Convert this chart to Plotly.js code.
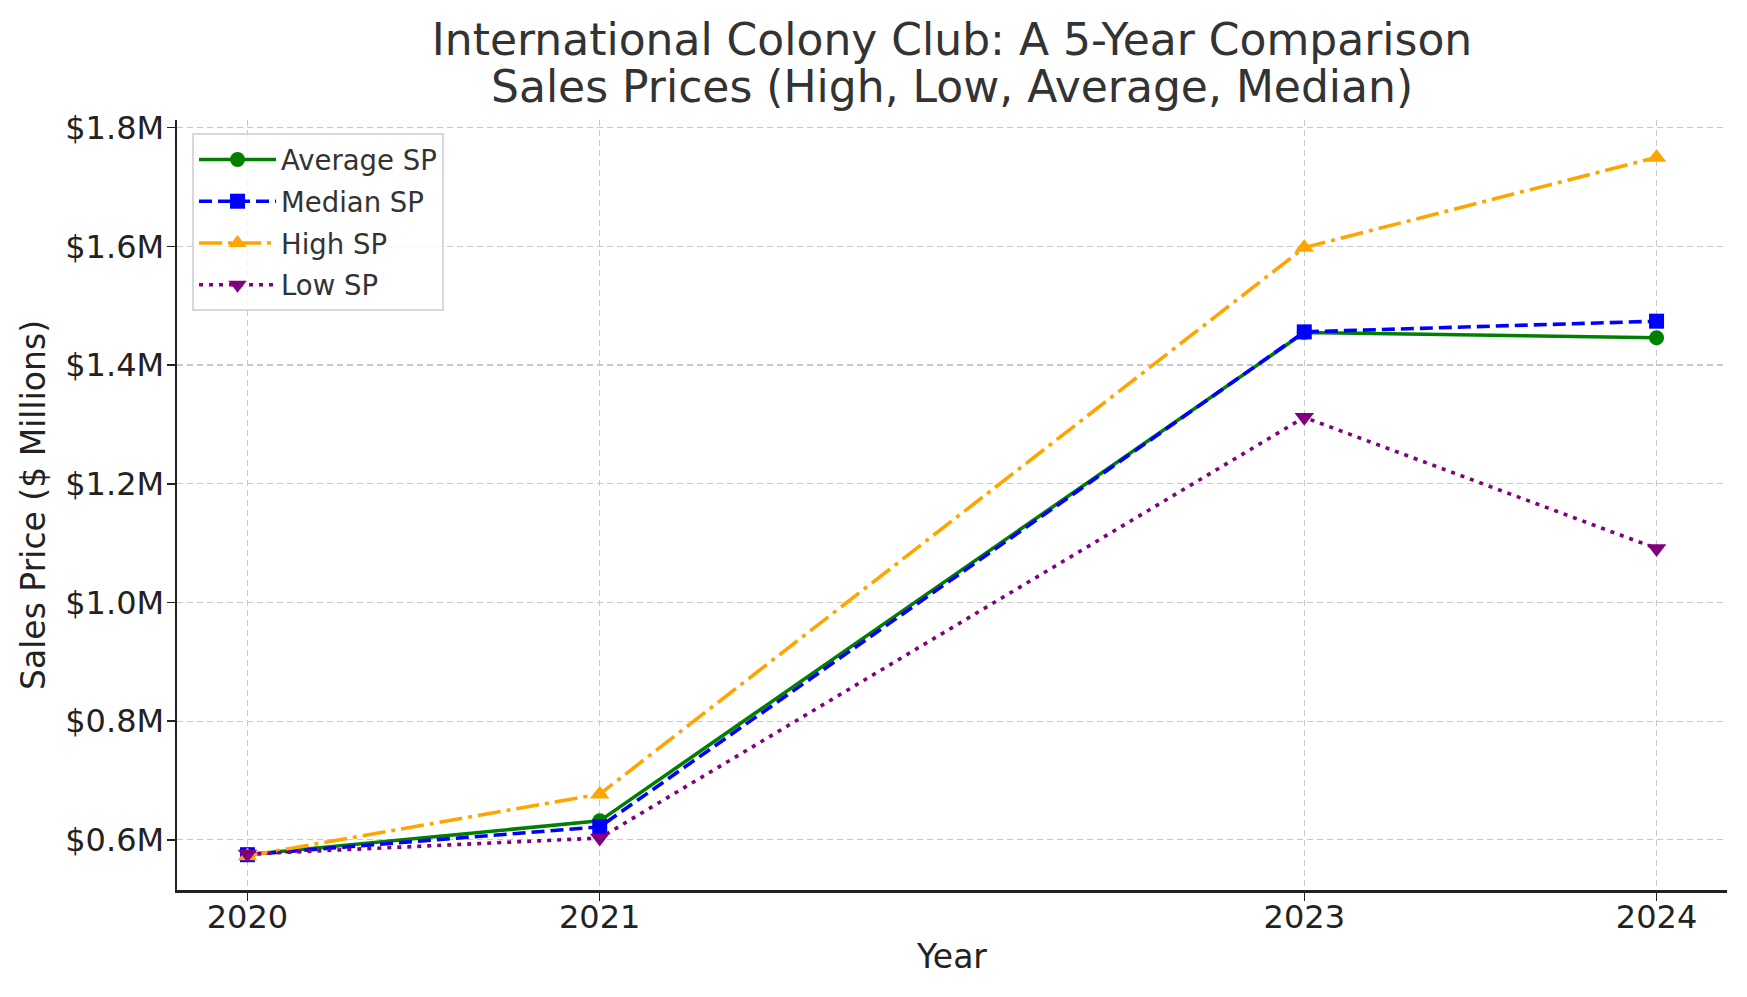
<!DOCTYPE html>
<html>
<head>
<meta charset="utf-8">
<script src="https://cdn.plot.ly/plotly-3.0.1.min.js"></script>
<style>html,body{margin:0;padding:0;background:#fff;}#chart{width:1747px;height:997px;}</style>
</head>
<body>
<div id="chart"></div>
<script>
const years = [2020, 2021, 2023, 2024];
const averageSP = [0.575, 0.632, 1.455, 1.446];
const medianSP = [0.575, 0.622, 1.456, 1.474];
const highSP = [0.573, 0.677, 1.598, 1.750];
const lowSP = [0.576, 0.603, 1.312, 1.091];
const yTicks = [0.6, 0.8, 1.0, 1.2, 1.4, 1.6, 1.8];
const yTickText = yTicks.map(v => "$" + v.toFixed(1) + "M");
const titleLine1 = "International Colony Club: A 5-Year Comparison";
const titleLine2 = "Sales Prices (High, Low, Average, Median)";

const font = "DejaVu Sans, sans-serif";
const traces = [
  {x: years, y: averageSP, name: "Average SP", mode: "lines+markers", legendgroup: "a",
   line: {color: "green", width: 3.6, dash: "solid"},
   marker: {symbol: "circle", size: 15, color: "green"}},
  {x: years, y: medianSP, name: "Median SP", mode: "lines+markers", legendgroup: "b",
   line: {color: "blue", width: 3.6, dash: "13px,6px"},
   marker: {symbol: "square", size: 15, color: "blue"}},
  {x: years, y: highSP, name: "High SP", mode: "lines+markers", legendgroup: "c",
   line: {color: "orange", width: 3.6, dash: "23px,6px,4px,6px"},
   marker: {symbol: "triangle-up", size: 17, color: "orange"}},
  {x: years, y: lowSP, name: "Low SP", mode: "lines+markers", legendgroup: "d",
   line: {color: "purple", width: 3.6, dash: "4px,6px"},
   marker: {symbol: "triangle-down", size: 17, color: "purple"}}
];

const layout = {
  width: 1747, height: 997,
  paper_bgcolor: "#fff", plot_bgcolor: "#fff",
  font: {family: font, color: "#222"},
  margin: {l: 177, r: 20, t: 120, b: 107},
  title: {text: titleLine1,
          font: {family: font, size: 44, color: "#333"}, xref: "paper", x: 0.5, xanchor: "center",
          yref: "container", y: 1 - 40 / 997, yanchor: "middle"},
  annotations: [{
    text: titleLine2, xref: "paper", yref: "paper", x: 0.5, y: (890 - 87) / 770,
    xanchor: "center", yanchor: "middle", showarrow: false,
    font: {family: font, size: 44, color: "#333"}
  }],
  xaxis: {
    range: [2019.8, 2024.2], tickvals: years, ticktext: years.map(String),
    showgrid: true, gridcolor: "#c8c8c8", griddash: "6px,4px", gridwidth: 1.2,
    showline: true, linecolor: "#222", linewidth: 2.5, mirror: false,
    ticks: "outside", ticklen: 8, tickwidth: 1.5, tickcolor: "#222", ticklabelstandoff: -11,
    tickfont: {family: font, size: 32, color: "#222"}, zeroline: false,
    title: {text: "Year", font: {family: font, size: 33, color: "#222"}, standoff: 10}
  },
  yaxis: {
    range: [0.5155, 1.813], tickvals: yTicks, ticktext: yTickText,
    showgrid: true, gridcolor: "#c8c8c8", griddash: "6px,4px", gridwidth: 1.2,
    showline: true, linecolor: "#222", linewidth: 2.5, mirror: false,
    ticks: "outside", ticklen: 8, tickwidth: 1.5, tickcolor: "#222", ticklabelstandoff: -4,
    tickfont: {family: font, size: 32, color: "#222"}, zeroline: false,
    title: {text: "Sales Price ($ Millions)", font: {family: font, size: 33, color: "#222"}, standoff: 10}
  },
  legend: {
    x: 0.0097, y: 0.983, xanchor: "left", yanchor: "top",
    bgcolor: "rgba(255,255,255,0.8)", bordercolor: "#d8d8d8", borderwidth: 2,
    font: {family: font, size: 27.5, color: "#333"}, itemwidth: 77, tracegroupgap: 3
  },
  showlegend: true
};

Plotly.newPlot("chart", traces, layout, {displayModeBar: false, staticPlot: true});
</script>
</body>
</html>
